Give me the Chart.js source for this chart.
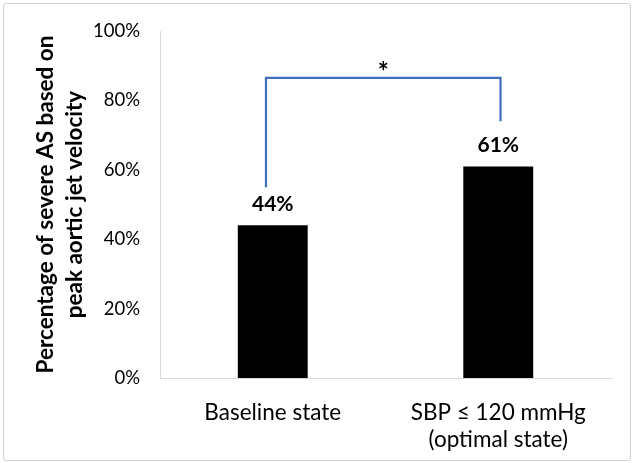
<!DOCTYPE html>
<html>
<head>
<meta charset="utf-8">
<script src="https://cdn.jsdelivr.net/npm/chart.js@4/dist/chart.umd.min.js"></script>
<style>
html,body{margin:0;padding:0;background:#fff;}
#wrap{position:relative;width:634px;height:463px;}
#frame{position:absolute;left:3px;top:3px;width:626px;height:456px;border:1px solid #d0d0d0;border-radius:3px;pointer-events:none;}
canvas{position:absolute;left:0;top:0;}
</style>
</head>
<body>
<div id="wrap"><canvas id="c" width="634" height="463"></canvas><div id="frame"></div></div>
<script>
const categories = [["Baseline state"], ["SBP \u2264 120 mmHg", "(optimal state)"]];
const values = [44, 61];
const valueLabels = ["44%", "61%"];
const yTicks = [0, 20, 40, 60, 80, 100];
const yTitle = ["Percentage of severe AS based on", "peak aortic jet velocity"];
const bracketLevels = [55, 86.5, 74]; // left foot, top, right foot (percent)
const bracketOffsets = [-0.03, 0.01]; // in category units from bar centers
const sigMark = "*";

const FONT = "Lato, 'Open Sans', sans-serif";

const overlay = {
  id: 'overlay',
  afterDatasetsDraw(chart) {
    const ctx = chart.ctx;
    const x = chart.scales.x, y = chart.scales.y;
    const meta = chart.getDatasetMeta(0);
    ctx.save();
    ctx.fillStyle = '#000';
    ctx.font = "bold 21px " + FONT;
    ctx.textAlign = 'center';
    ctx.textBaseline = 'middle';
    meta.data.forEach((bar, i) => {
      ctx.fillText(valueLabels[i], bar.x, bar.y - 21);
    });
    const step = x.getPixelForValue(1) - x.getPixelForValue(0);
    const xl = x.getPixelForValue(0) + bracketOffsets[0] * step;
    const xr = x.getPixelForValue(1) + bracketOffsets[1] * step;
    const yl = y.getPixelForValue(bracketLevels[0]);
    const yt = y.getPixelForValue(bracketLevels[1]);
    const yr = y.getPixelForValue(bracketLevels[2]);
    ctx.strokeStyle = '#3d6fbd';
    ctx.lineWidth = 2.2;
    ctx.lineJoin = 'miter';
    ctx.beginPath();
    ctx.moveTo(xl, yl);
    ctx.lineTo(xl, yt);
    ctx.lineTo(xr, yt);
    ctx.lineTo(xr, yr);
    ctx.stroke();
    ctx.font = "bold 26px " + FONT;
    ctx.fillText(sigMark, (xl + xr) / 2, yt - 5);
    ctx.restore();
  }
};

new Chart(document.getElementById('c'), {
  type: 'bar',
  data: {
    labels: categories,
    datasets: [{
      data: values,
      backgroundColor: '#000000',
      borderWidth: 0,
      barPercentage: 0.31,
      categoryPercentage: 1.0
    }]
  },
  options: {
    responsive: false,
    animation: false,
    events: [],
    layout: { padding: { top: 24, right: 23, bottom: 0, left: 0 } },
    plugins: { legend: { display: false }, tooltip: { enabled: false } },
    scales: {
      x: {
        grid: { display: false, drawTicks: false },
        border: { display: true, color: '#d9d9d9', width: 1 },
        ticks: { color: '#000', font: { family: FONT, size: 22.5, lineHeight: 1.2 }, padding: 21, maxRotation: 0, autoSkip: false },
        afterFit(s) { s.height = 85; }
      },
      y: {
        min: 0, max: 100,
        afterBuildTicks(s) { s.ticks = yTicks.map(v => ({ value: v })); },
        grid: { display: false, drawTicks: false },
        border: { display: true, color: '#d9d9d9', width: 1 },
        ticks: { color: '#000', font: { family: FONT, size: 18.5 }, padding: 20, callback: v => v + '%' },
        title: {
          display: true, text: yTitle, color: '#000',
          font: { family: FONT, size: 22.5, weight: 'bold', lineHeight: 1.29 },
          padding: { top: 31, bottom: 0 }
        },
        afterFit(s) { s.width = 160; }
      }
    }
  },
  plugins: [overlay]
});
</script>
</body>
</html>
